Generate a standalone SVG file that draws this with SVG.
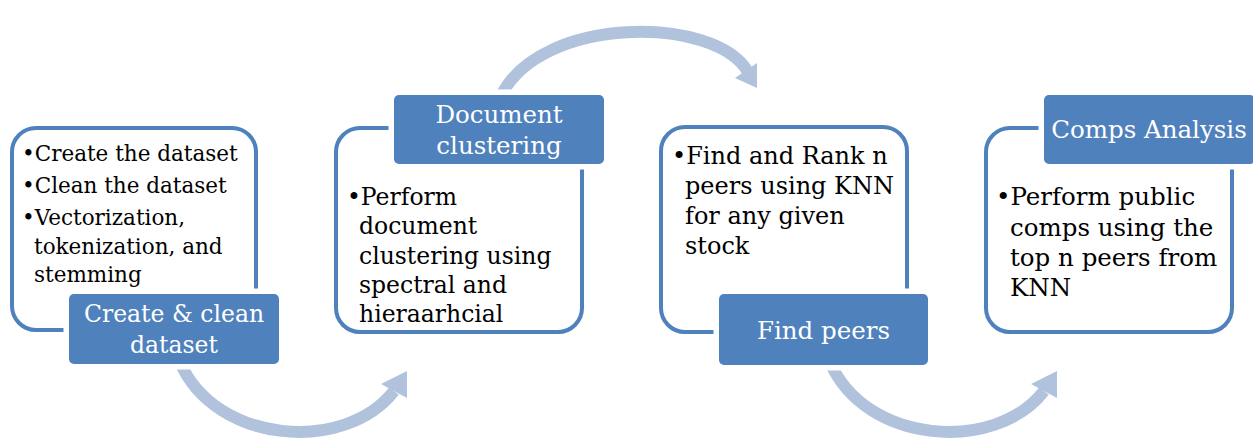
<svg xmlns="http://www.w3.org/2000/svg" width="1253" height="438" viewBox="0 0 1253 438">
<style>
.frame{fill:#fff;stroke:#4F81BD;stroke-width:4}
.lab{fill:#4F81BD;stroke:#fff;stroke-width:11;paint-order:stroke}
.body{font-family:"DejaVu Serif","Liberation Serif",serif;font-size:21px;fill:#000}
.lt{font-family:"DejaVu Serif","Liberation Serif",serif;font-size:24.5px;fill:#fff;text-anchor:middle}
.band{fill:none;stroke:#B1C2DD;stroke-width:12}
.head{fill:#B1C2DD}
</style>
<rect width="1253" height="438" fill="#fff"/>
<g id="connectors">
  <path class="band" d="M180,362 C215,444 345,454 394,391"/>
  <polygon class="head" points="381,384 407,371 407,398"/>
  <path class="band" d="M501,96 C540,15 715,15 748,72"/>
  <polygon class="head" points="735,78 757,63 757,88"/>
  <path class="band" d="M830,362 C865,444 995,454 1044,391"/>
  <polygon class="head" points="1031,384 1057,371 1057,398"/>
</g>
<g id="node1">
  <rect class="frame" x="12" y="128" width="244" height="202" rx="24"/>
  <text class="body" style="font-size:21.5px"><tspan x="22" y="161">•Create the dataset</tspan><tspan x="22" y="193">•Clean the dataset</tspan><tspan x="22" y="225">•Vectorization,</tspan><tspan x="34" y="254">tokenization, and</tspan><tspan x="34" y="282">stemming</tspan></text>
  <rect class="lab" x="69" y="294" width="210" height="70" rx="5"/>
  <text class="lt" style="font-size:23.5px"><tspan x="174" y="322">Create &amp; clean</tspan><tspan x="174" y="353">dataset</tspan></text>
</g>
<g id="node2">
  <rect class="frame" x="336" y="128" width="246" height="204" rx="24"/>
  <text class="body" style="font-size:23.5px"><tspan x="347" y="205">•Perform</tspan><tspan x="359" y="234">document</tspan><tspan x="359" y="264">clustering using</tspan><tspan x="359" y="293">spectral and</tspan><tspan x="359" y="322">hieraarhcial</tspan></text>
  <rect class="lab" x="394" y="95" width="210" height="69" rx="5"/>
  <text class="lt"><tspan x="499" y="123">Document</tspan><tspan x="499" y="154">clustering</tspan></text>
</g>
<g id="node3">
  <rect class="frame" x="661" y="127" width="246" height="205" rx="24"/>
  <text class="body" style="font-size:24px"><tspan x="672" y="164">•Find and Rank n</tspan><tspan x="685" y="194">peers using KNN</tspan><tspan x="685" y="224">for any given</tspan><tspan x="685" y="254">stock</tspan></text>
  <rect class="lab" x="719" y="294" width="209" height="71" rx="5"/>
  <text class="lt"><tspan x="823.5" y="339">Find peers</tspan></text>
</g>
<g id="node4">
  <rect class="frame" x="986" y="128" width="246" height="204" rx="24"/>
  <text class="body" style="font-size:24.5px"><tspan x="996" y="205">•Perform public</tspan><tspan x="1010" y="236">comps using the</tspan><tspan x="1010" y="266">top n peers from</tspan><tspan x="1010" y="296">KNN</tspan></text>
  <rect class="lab" x="1044" y="95" width="211" height="69" rx="5"/>
  <text class="lt"><tspan x="1149" y="138">Comps Analysis</tspan></text>
</g>
</svg>
